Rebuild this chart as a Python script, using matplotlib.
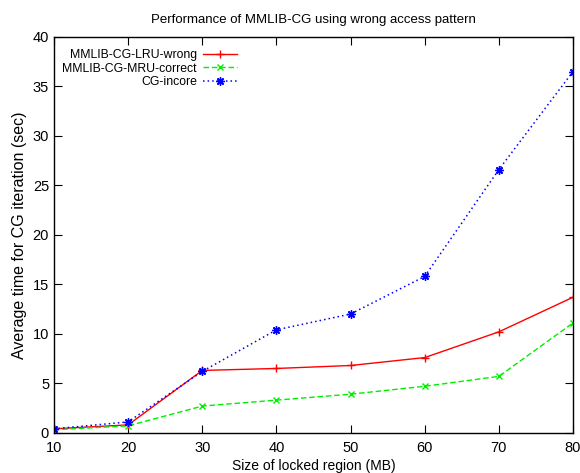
import matplotlib
matplotlib.use("Agg")
import matplotlib.pyplot as plt

plt.rcParams['font.family'] = ['Liberation Sans', 'DejaVu Sans']

# locked region size (MB) and average CG iteration time (sec)
region_mb = [10, 20, 30, 40, 50, 60, 70, 80]
lru_wrong = [0.4, 0.8, 6.3, 6.5, 6.8, 7.6, 10.2, 13.7]
mru_correct = [0.3, 0.7, 2.7, 3.3, 3.9, 4.7, 5.7, 11.1]
cg_incore = [0.4, 1.1, 6.2, 10.4, 12.0, 15.8, 26.6, 36.5]

fig = plt.figure(figsize=(5.8, 4.73), dpi=100)
ax = fig.add_axes([0.093, 0.085, 0.895, 0.837])

ax.plot(region_mb, lru_wrong, color='#ff0000', linestyle='-', linewidth=1,
        marker='+', markersize=6, label='MMLIB-CG-LRU-wrong')
ax.plot(region_mb, mru_correct, color='#00ee00', linestyle=(0, (4, 2)), linewidth=1,
        marker='x', markersize=4.5, label='MMLIB-CG-MRU-correct')
ax.plot(region_mb, cg_incore, color='#0000ff', linestyle=(0, (1, 2)), linewidth=1.1,
        marker=(8, 2, 0), markersize=6, label='CG-incore')

ax.set_xlim(10, 80)
ax.set_ylim(0, 40)
ax.set_xticks(range(10, 81, 10))
ax.set_yticks(range(0, 41, 5))
ax.tick_params(direction='in', top=True, right=True, length=6, labelsize=10.5)
ax.tick_params(axis='x', pad=6)
for s in ax.spines.values():
    s.set_linewidth(1)

ax.set_title('Performance of MMLIB-CG using wrong access pattern', fontsize=9.5, pad=10)
ax.set_xlabel('Size of locked region (MB)', fontsize=10, labelpad=3)
ax.set_ylabel('Average time for CG iteration (sec)', fontsize=11.5, labelpad=4)

ax.legend(loc='upper left', bbox_to_anchor=(0.0, 0.99), frameon=False, markerfirst=False,
          fontsize=8.8, handlelength=2.8, handletextpad=0.5, labelspacing=0.1,
          borderaxespad=0.3)

fig.savefig('out.png', dpi=100)
